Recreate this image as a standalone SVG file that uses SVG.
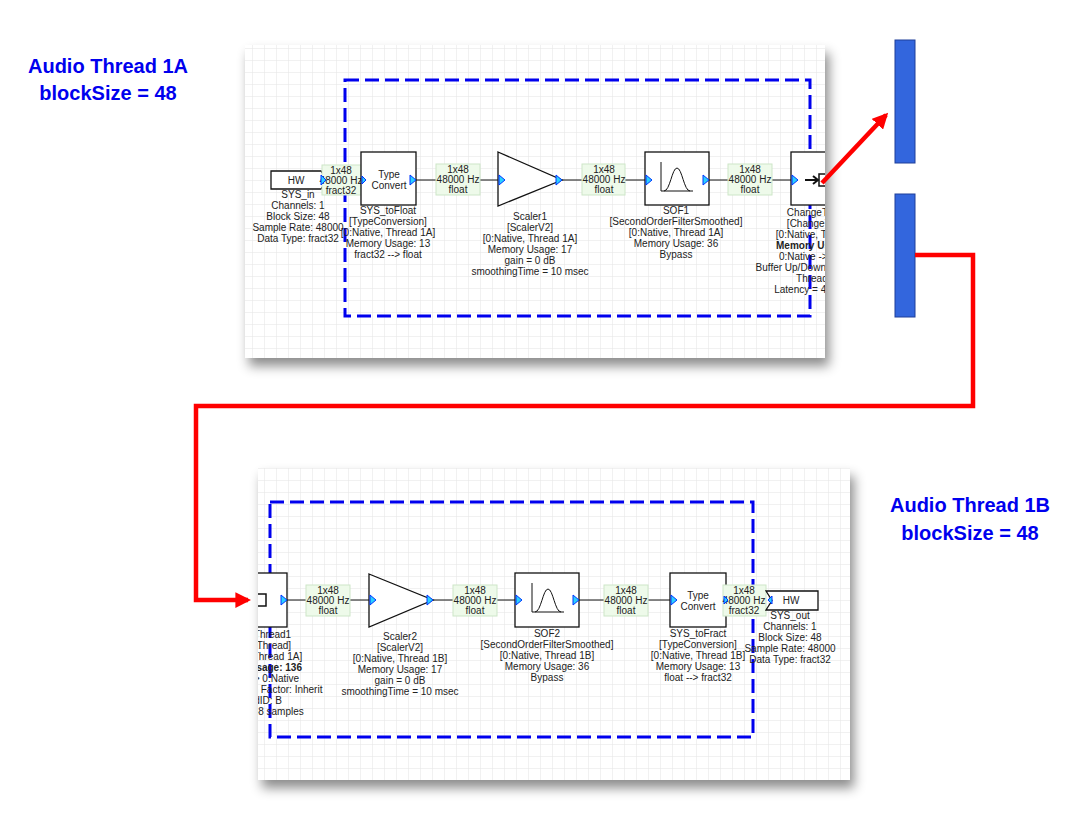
<svg xmlns="http://www.w3.org/2000/svg" width="1088" height="826" viewBox="0 0 1088 826">
<defs>
<pattern id="grid" width="12" height="12" patternUnits="userSpaceOnUse"><path d="M12 0H0V12" fill="none" stroke="#e3e3e3" stroke-width="1"/></pattern>
<filter id="sh" x="-10%" y="-10%" width="120%" height="130%"><feDropShadow dx="4" dy="8" stdDeviation="6" flood-color="#000" flood-opacity="0.45"/></filter>
<clipPath id="c1"><rect x="245" y="45" width="580" height="313"/></clipPath>
<clipPath id="c2"><rect x="258" y="468" width="592" height="312"/></clipPath>
<marker id="ra" viewBox="0 0 10 10" refX="8" refY="5" markerWidth="3.5" markerHeight="3.5" orient="auto"><path d="M0 0L10 5L0 10z" fill="#f00"/></marker>
</defs>
<style>
text{font-family:"Liberation Sans",Arial,sans-serif;font-size:10px;fill:#222;text-anchor:middle}
.t{font-size:20px;font-weight:bold;fill:#0000ee}
.w{fill:#eefaea;stroke:#cde6c8;stroke-width:1}
.b{fill:#fff;stroke:#111;stroke-width:1.3}
.ln{stroke:#111;stroke-width:1}
.p{fill:#2ad0ff;stroke:#0033ff;stroke-width:1}
.dash{fill:none;stroke:#0000ee;stroke-width:3;stroke-dasharray:14 6}
.red{fill:none;stroke:#f00;stroke-width:4.5}
.bold{font-weight:bold}
</style>
<rect width="1088" height="826" fill="#fff"/>
<text class="t" x="108" y="73">Audio Thread 1A</text>
<text class="t" x="108" y="100">blockSize = 48</text>
<text class="t" x="970" y="512">Audio Thread 1B</text>
<text class="t" x="970" y="540">blockSize = 48</text>
<rect x="245" y="45" width="580" height="313" fill="#fff" filter="url(#sh)"/>
<rect x="258" y="468" width="592" height="312" fill="#fff" filter="url(#sh)"/>
<g clip-path="url(#c1)">
<rect x="245" y="45" width="580" height="313" fill="url(#grid)"/>
<g id="top-wires"><path class="ln" d="M416 180H582M625 180H645M709 180H791"/></g>
<rect class="dash" x="345" y="80" width="465" height="236"/>
<g id="sys_in"><path class="b" d="M271 171H321L327 180L321 189H271Z"/><text x="296" y="184">HW</text>
<text x="298" y="198">SYS_in</text><text x="298" y="209">Channels: 1</text><text x="298" y="220">Block Size: 48</text><text x="298" y="231">Sample Rate: 48000</text><text x="298" y="242">Data Type: fract32</text></g>
<g id="w1"><rect class="w" x="322" y="165" width="39" height="30"/><text x="341" y="174">1x48</text><text x="341" y="184">48000 Hz</text><text x="341" y="194">fract32</text></g>
<g id="sys_tofloat"><rect class="b" x="361" y="152" width="55" height="53"/><text x="389" y="178">Type</text><text x="389" y="189">Convert</text>
<text x="388" y="214">SYS_toFloat</text><text x="388" y="225">[TypeConversion]</text><text x="388" y="236">[0:Native, Thread 1A]</text><text x="388" y="247">Memory Usage: 13</text><text x="388" y="258">fract32 --&gt; float</text></g>
<g id="w2"><rect class="w" x="436" y="164" width="44" height="31"/><text x="458" y="173">1x48</text><text x="458" y="183">48000 Hz</text><text x="458" y="193">float</text></g>
<g id="scaler1"><path class="b" d="M498 152L562 180L498 206Z"/>
<text x="530" y="220">Scaler1</text><text x="530" y="231">[ScalerV2]</text><text x="530" y="242">[0:Native, Thread 1A]</text><text x="530" y="253">Memory Usage: 17</text><text x="530" y="264">gain = 0 dB</text><text x="530" y="275">smoothingTime = 10 msec</text></g>
<g id="w3"><rect class="w" x="582" y="164" width="43" height="31"/><text x="604" y="173">1x48</text><text x="604" y="183">48000 Hz</text><text x="604" y="193">float</text></g>
<g id="sof1"><rect class="b" x="645" y="152" width="64" height="53"/><path class="ln" fill="none" d="M661 162V191M661 191H693M664 191C670 191 672 168 677 168C682 168 684 191 690 191"/>
<text x="676" y="214">SOF1</text><text x="676" y="225">[SecondOrderFilterSmoothed]</text><text x="676" y="236">[0:Native, Thread 1A]</text><text x="676" y="247">Memory Usage: 36</text><text x="676" y="258">Bypass</text></g>
<g id="w4"><rect class="w" x="728" y="164" width="44" height="31"/><text x="750" y="173">1x48</text><text x="750" y="183">48000 Hz</text><text x="750" y="193">float</text></g>
<g id="changethread_top"><rect class="b" x="791" y="152" width="64" height="53"/><path d="M805 180H817M813 176L818 180L813 184" stroke="#111" stroke-width="2" fill="none"/><rect x="819" y="174" width="10" height="12" fill="none" stroke="#111" stroke-width="1.5"/>
<text x="823" y="216">ChangeThread1</text><text x="823" y="227">[ChangeThread]</text><text x="823" y="238">[0:Native, Thread 1A]</text><text x="823" y="249" class="bold">Memory Usage: 136</text><text x="823" y="260">0:Native -&gt; 0:Native</text><text x="823" y="271">Buffer Up/Down Factor: Inherit</text><text x="823" y="282">ThreadID: B</text><text x="823" y="293">Latency = 48 samples</text></g>
<g id="ports-top"><path class="p" d="M321 175L326 180L321 185Z"/><path class="p" d="M362 176L366 180L362 184Z"/><path class="p" d="M410 175L416 180L410 185Z"/><path class="p" d="M499 175L505 180L499 185Z"/><path class="p" d="M556 175L562 180L556 185Z"/><path class="p" d="M646 175L652 180L646 185Z"/><path class="p" d="M703 175L709 180L703 185Z"/><path class="p" d="M792 175L798 180L792 185Z"/></g>
</g>
<g clip-path="url(#c2)">
<rect x="258" y="468" width="592" height="312" fill="url(#grid)"/>
<g id="bot-wires"><path class="ln" d="M287 600H369M433 600H515M579 600H670"/></g>
<rect class="dash" x="270" y="502" width="483" height="235"/>
<g id="changethread_bot"><rect class="b" x="223" y="573" width="64" height="54"/><rect x="256" y="594" width="10" height="12" fill="none" stroke="#111" stroke-width="1.5"/>
<text x="255" y="638">ChangeThread1</text><text x="255" y="649">[ChangeThread]</text><text x="255" y="660">[0:Native, Thread 1A]</text><text x="255" y="671" class="bold">Memory Usage: 136</text><text x="255" y="682">0:Native -&gt; 0:Native</text><text x="255" y="693">Buffer Up/Down Factor: Inherit</text><text x="255" y="704">ThreadID: B</text><text x="255" y="715">Latency = 48 samples</text></g>
<g id="w5"><rect class="w" x="306" y="585" width="44" height="31"/><text x="328" y="594">1x48</text><text x="328" y="604">48000 Hz</text><text x="328" y="614">float</text></g>
<g id="scaler2"><path class="b" d="M369 574L433 600L369 627Z"/>
<text x="400" y="640">Scaler2</text><text x="400" y="651">[ScalerV2]</text><text x="400" y="662">[0:Native, Thread 1B]</text><text x="400" y="673">Memory Usage: 17</text><text x="400" y="684">gain = 0 dB</text><text x="400" y="695">smoothingTime = 10 msec</text></g>
<g id="w6"><rect class="w" x="453" y="585" width="44" height="31"/><text x="475" y="594">1x48</text><text x="475" y="604">48000 Hz</text><text x="475" y="614">float</text></g>
<g id="sof2"><rect class="b" x="515" y="573" width="64" height="54"/><path class="ln" fill="none" d="M532 583V612M532 612H564M535 612C541 612 543 589 548 589C553 589 555 612 561 612"/>
<text x="547" y="637">SOF2</text><text x="547" y="648">[SecondOrderFilterSmoothed]</text><text x="547" y="659">[0:Native, Thread 1B]</text><text x="547" y="670">Memory Usage: 36</text><text x="547" y="681">Bypass</text></g>
<g id="w7"><rect class="w" x="604" y="585" width="44" height="31"/><text x="626" y="594">1x48</text><text x="626" y="604">48000 Hz</text><text x="626" y="614">float</text></g>
<g id="sys_tofract"><rect class="b" x="670" y="573" width="56" height="54"/><text x="698" y="599">Type</text><text x="698" y="610">Convert</text>
<text x="698" y="637">SYS_toFract</text><text x="698" y="648">[TypeConversion]</text><text x="698" y="659">[0:Native, Thread 1B]</text><text x="698" y="670">Memory Usage: 13</text><text x="698" y="681">float --&gt; fract32</text></g>
<g id="w8"><rect class="w" x="723" y="585" width="43" height="31"/><text x="744" y="594">1x48</text><text x="744" y="604">48000 Hz</text><text x="744" y="614">fract32</text></g>
<g id="sys_out"><path class="b" d="M766 591H818V610H766L772 600.5Z"/><text x="791" y="604">HW</text>
<text x="790" y="619">SYS_out</text><text x="790" y="630">Channels: 1</text><text x="790" y="641">Block Size: 48</text><text x="790" y="652">Sample Rate: 48000</text><text x="790" y="663">Data Type: fract32</text></g>
<g id="ports-bot"><path class="p" d="M281 595L287 600L281 605Z"/><path class="p" d="M370 595L376 600L370 605Z"/><path class="p" d="M427 595L433 600L427 605Z"/><path class="p" d="M516 595L522 600L516 605Z"/><path class="p" d="M573 595L579 600L573 605Z"/><path class="p" d="M671 595L677 600L671 605Z"/><path class="p" d="M724 596L728 600L724 604Z"/><path class="p" d="M772 596L768 600L772 604Z"/></g>
</g>
<g id="buffer1"><rect x="895" y="40" width="20" height="123" fill="#3366dd" stroke="#1f3f99"/></g>
<g id="buffer2"><rect x="895" y="194" width="20" height="123" fill="#3366dd" stroke="#1f3f99"/></g>
<g id="connectors">
<path class="red" d="M822 183L886 115" marker-end="url(#ra)"/>
<path class="red" d="M915 255H973V406H196V600H248" marker-end="url(#ra)"/>
</g>
</svg>
